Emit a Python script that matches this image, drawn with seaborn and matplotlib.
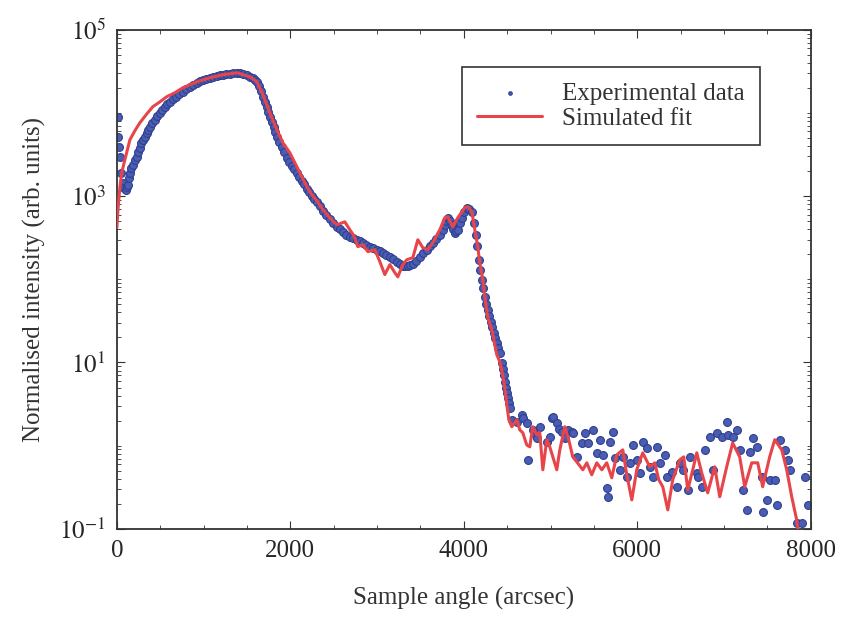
import numpy as np
import pandas as pd
import matplotlib
matplotlib.use("Agg")
import matplotlib.pyplot as plt
import matplotlib.ticker as mticker
import seaborn as sns

# Experimental data, main curve (sample angle in arcsec, normalised intensity)
exp_main_angle = [10, 14, 22, 35, 50, 69, 85, 104, 115, 127, 140, 150, 165, 184, 205,
                  231, 248, 265, 282, 300, 322, 346, 362, 380, 410, 438, 467, 496, 525,
                  553, 582, 611, 645, 680, 720, 761, 800, 841, 880, 922, 955, 991, 1030,
                  1072, 1110, 1153, 1190, 1222, 1260, 1303, 1340, 1383, 1420, 1452, 1495,
                  1533, 1565, 1591, 1615, 1637, 1660, 1683, 1705, 1729, 1745, 1764, 1787,
                  1810, 1827, 1844, 1873, 1902, 1930, 1960, 1990, 2017, 2045, 2075, 2105,
                  2133, 2160, 2190, 2220, 2248, 2275, 2305, 2340, 2375, 2415, 2455, 2495,
                  2536, 2570, 2605, 2645, 2686, 2725, 2767, 2800, 2836, 2875, 2916, 2955,
                  2997, 3030, 3066, 3105, 3147, 3185, 3228, 3260, 3297, 3325, 3354, 3385,
                  3412, 3450, 3493, 3535, 3573, 3610, 3642, 3685, 3723, 3755, 3781, 3800,
                  3815, 3840, 3862, 3880, 3896, 3915, 3931, 3955, 3977, 4005, 4034, 4060,
                  4092, 4115, 4138, 4155, 4173, 4190, 4207, 4225, 4242, 4260, 4277, 4295,
                  4311, 4330, 4346, 4363, 4380, 4398, 4415, 4438, 4450, 4461, 4473, 4484,
                  4496, 4507, 4518, 4530]
exp_main_intensity = [9000, 5180, 3900, 2970, 1900, 1450, 1250, 1190, 1280, 1370, 1650,
                      1910, 2150, 2380, 2700, 2970, 3350, 3810, 4300, 4760, 5200, 5780,
                      6300, 6830, 7500, 8280, 9200, 10000, 11000, 11900, 12700, 13600,
                      14700, 15700, 17000, 18000, 19500, 20700, 21800, 23100, 24300,
                      25100, 25700, 26500, 27300, 28000, 28300, 28800, 29300, 29600,
                      30200, 30400, 30000, 29600, 28600, 27200, 26300, 25100, 23500,
                      21200, 18400, 15700, 13600, 11900, 10400, 9000, 7800, 6830, 5900,
                      5180, 4500, 3920, 3350, 2890, 2600, 2320, 2100, 1910, 1700, 1530,
                      1380, 1230, 1110, 1010, 930, 857, 760, 667, 600, 535, 480, 429, 400,
                      373, 345, 325, 310, 299, 285, 275, 260, 246, 235, 226, 216, 208, 197,
                      187, 175, 163, 153, 146, 143, 146, 150, 154, 168, 187, 205, 226, 250,
                      275, 305, 344, 395, 453, 505, 550, 500, 453, 400, 363, 380, 395, 470,
                      550, 640, 726, 700, 650, 480, 344, 250, 172, 130, 98.9, 78, 61.8, 51,
                      43.1, 36, 30.9, 26.5, 22.8, 19.8, 17.3, 15.0, 13.1, 9.93, 8.4, 7.12,
                      5.9, 4.97, 4.3, 3.77, 3.3, 2.85]

# Experimental data, noisy tail
exp_tail_angle = [4553, 4611, 4668, 4680, 4726, 4738, 4795, 4830, 4841, 4876, 4957, 4991,
                  5014, 5026, 5072, 5100, 5130, 5164, 5199, 5245, 5256, 5302, 5360, 5395,
                  5429, 5487, 5533, 5568, 5602, 5648, 5660, 5683, 5717, 5740, 5798, 5833,
                  5879, 5913, 5948, 5994, 6029, 6063, 6109, 6144, 6178, 6225, 6259, 6317,
                  6340, 6397, 6455, 6490, 6524, 6582, 6605, 6686, 6697, 6743, 6778, 6836,
                  6870, 6916, 6974, 7031, 7043, 7100, 7146, 7181, 7216, 7262, 7297, 7331,
                  7377, 7435, 7446, 7493, 7527, 7585, 7608, 7642, 7700, 7735, 7758, 7838,
                  7896, 7931, 7965]
exp_tail_intensity = [2.05, 1.94, 2.35, 2.16, 1.88, 0.676, 1.55, 1.35, 1.24, 1.69, 1.11,
                      1.28, 2.16, 2.22, 1.88, 1.60, 1.47, 1.24, 1.55, 1.45, 1.43, 0.734,
                      1.08, 1.43, 1.08, 1.55, 0.820, 1.18, 0.776, 0.311, 0.243, 1.11, 1.47,
                      0.714, 0.513, 0.734, 0.423, 0.622, 1.02, 0.676, 0.472, 1.11, 0.942,
                      0.557, 0.423, 0.968, 0.622, 0.776, 0.423, 0.485, 0.321, 0.622, 0.513,
                      0.294, 0.734, 0.472, 0.423, 0.321, 0.891, 1.28, 0.513, 1.43, 1.28,
                      1.94, 1.35, 1.28, 1.55, 0.891, 0.294, 0.169, 0.843, 1.24, 0.968,
                      0.423, 0.160, 0.223, 0.389, 0.389, 0.195, 1.18, 0.891, 0.676, 0.513,
                      0.118, 0.118, 0.423, 0.195]

# Simulated fit
fit_angle = [0, 12, 35, 58, 92, 150, 207, 265, 346, 415, 496, 576, 669, 761, 841, 922,
             1072, 1222, 1383, 1533, 1614, 1683, 1764, 1844, 1914, 1994, 2052, 2110,
             2190, 2248, 2305, 2375, 2455, 2536, 2628, 2686, 2732, 2778, 2836, 2893,
             2974, 3032, 3089, 3147, 3205, 3239, 3297, 3343, 3412, 3470, 3527, 3585,
             3642, 3723, 3781, 3815, 3873, 3931, 4011, 4046, 4092, 4127, 4161, 4184,
             4219, 4242, 4277, 4323, 4357, 4380, 4415, 4449, 4472, 4496, 4519, 4553,
             4611, 4645, 4680, 4726, 4761, 4795, 4841, 4876, 4911, 4957, 4991, 5037,
             5072, 5107, 5164, 5210, 5256, 5302, 5372, 5418, 5475, 5533, 5591, 5648,
             5706, 5764, 5833, 5879, 5937, 5994, 6063, 6144, 6202, 6248, 6294, 6352,
             6409, 6490, 6536, 6582, 6640, 6686, 6743, 6812, 6893, 6951, 7031, 7100,
             7181, 7239, 7320, 7389, 7446, 7527, 7585, 7666, 7723, 7781, 7838, 7862]
fit_intensity = [420, 686, 1300, 1960, 2740, 4760, 6110, 7620, 9780, 11900, 13600,
                 15700, 17500, 20100, 21800, 23700, 26500, 28800, 30400, 27200, 23700,
                 16600, 10000, 6280, 4380, 3320, 2520, 1910, 1300, 1040, 881, 686, 550,
                 452, 491, 394, 335, 247, 261, 215, 227, 163, 114, 150, 120, 107, 150,
                 172, 182, 299, 240, 227, 275, 394, 550, 565, 429, 550, 726, 747, 650,
                 394, 247, 158, 98.9, 61.8, 34.6, 24.8, 16.3, 12.4, 10.2, 7.11, 4.97,
                 3.10, 2.05, 1.69,
                 2.05, 1.55, 1.43, 1.02, 0.968, 1.69, 1.35, 1.43, 0.513, 1.18, 0.968,
                 0.676, 0.513, 0.891, 1.69, 1.18, 0.734, 0.640, 0.513, 0.622, 0.447,
                 0.622, 0.513, 0.622, 0.411, 0.776, 0.891, 0.447, 0.223, 0.513, 0.820,
                 0.557, 0.622, 0.389, 0.321, 0.169, 0.389, 0.676, 0.734, 0.294, 0.513,
                 0.820, 0.472, 0.271, 0.557, 0.243, 0.557, 1.08, 0.734, 0.321, 0.622,
                 0.622, 0.321, 0.734, 1.18, 0.891, 0.513, 0.243, 0.128, 0.085]

exp_df = pd.DataFrame({"angle": exp_main_angle + exp_tail_angle,
                       "intensity": exp_main_intensity + exp_tail_intensity})
fit_df = pd.DataFrame({"angle": fit_angle, "intensity": fit_intensity})

sns.set_style("ticks")
plt.rcParams["font.family"] = ["Liberation Serif", "DejaVu Serif"]
plt.rcParams["mathtext.fontset"] = "stix"

fig = plt.figure(figsize=(8.41, 6.2), dpi=100)
ax = fig.add_axes([0.139, 0.147, 0.825, 0.805])

sns.scatterplot(data=exp_df, x="angle", y="intensity", ax=ax, s=32,
                color="#4a5db3", edgecolor="#2e3f8f", linewidth=0.8,
                label="Experimental data", zorder=2)
sns.lineplot(data=fit_df, x="angle", y="intensity", ax=ax, color="#e8454a",
             linewidth=2.2, estimator=None, sort=False, label="Simulated fit", zorder=3)

ax.set_yscale("log")
ax.set_xlim(0, 8000)
ax.set_ylim(0.1, 1e5)
ax.set_xticks([0, 2000, 4000, 6000, 8000])
ax.xaxis.set_minor_locator(mticker.MultipleLocator(500))
ax.set_yticks([0.1, 10, 1000, 1e5])
ax.set_yticklabels(["$10^{-1}$", "$10^{1}$", "$10^{3}$", "$10^{5}$"])
ax.yaxis.set_minor_locator(mticker.LogLocator(base=10, subs=np.arange(1, 10), numticks=20))
ax.yaxis.set_minor_formatter(mticker.NullFormatter())
ax.tick_params(which="both", direction="in", top=True, right=True, labelsize=18,
               color="#333333")
ax.tick_params(which="major", length=6, pad=8)
ax.tick_params(which="minor", length=3)
for sp in ax.spines.values():
    sp.set_linewidth(1.3)
    sp.set_color("#333333")

ax.set_xlabel("Sample angle (arcsec)", fontsize=18, labelpad=18, color="#333333")
ax.set_ylabel("Normalised intensity (arb. units)", fontsize=18, labelpad=10, color="#333333")

leg = ax.legend(loc="upper right", bbox_to_anchor=(0.945, 0.95), fontsize=18,
                frameon=True, fancybox=False, edgecolor="#333333", framealpha=1,
                handlelength=2.6, borderpad=0.6, labelspacing=0.1, markerscale=0.45)
leg.get_frame().set_linewidth(1.2)
for t in leg.get_texts():
    t.set_color("#333333")

fig.savefig("out.png", dpi=100)
